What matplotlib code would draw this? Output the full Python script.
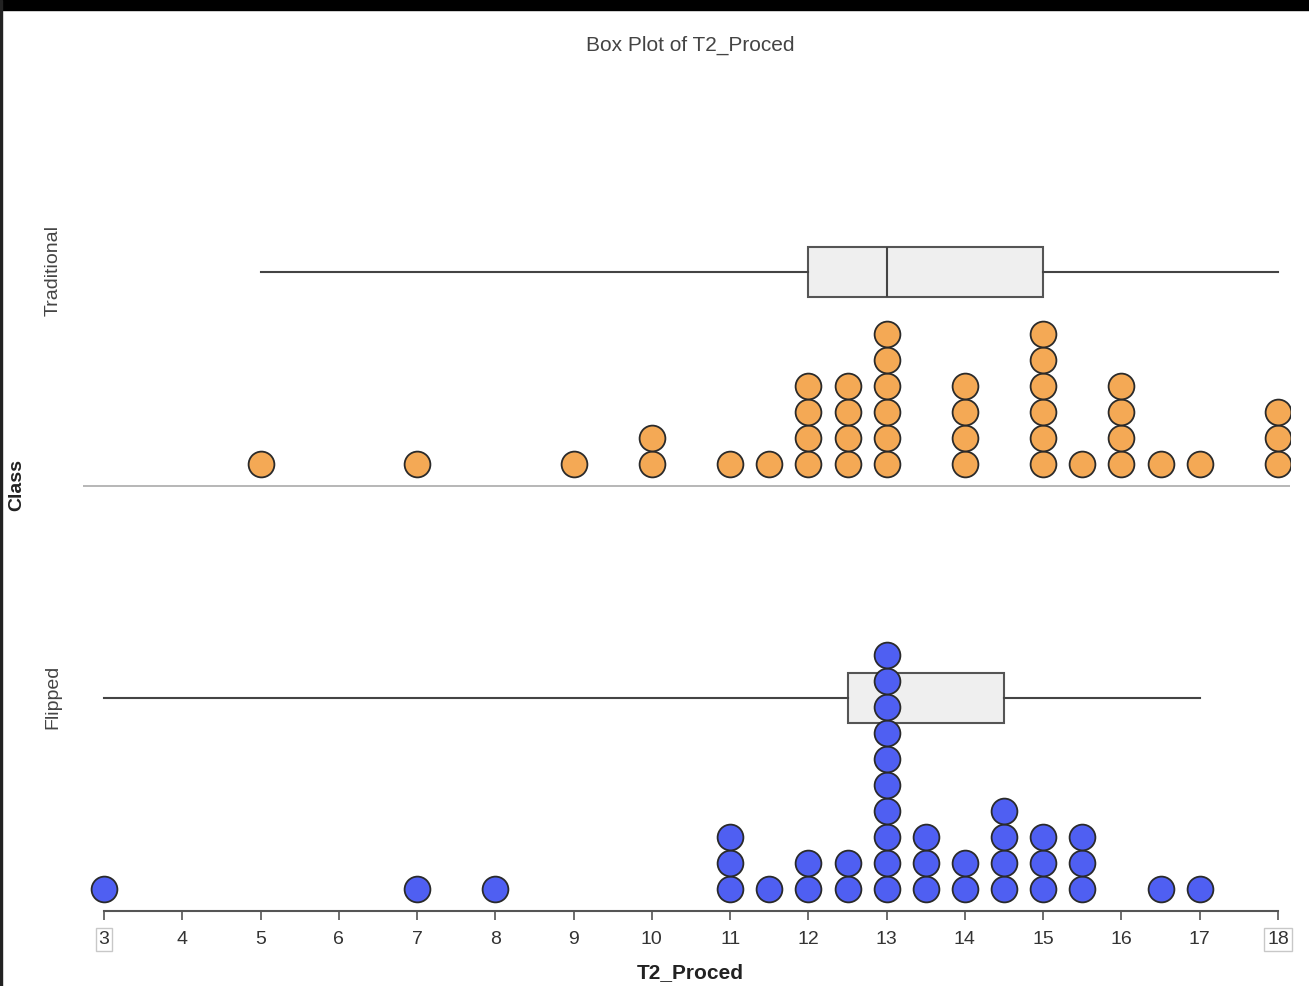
import numpy as np
import matplotlib
matplotlib.use('Agg')
import matplotlib.pyplot as plt
from matplotlib.patches import Rectangle

# ------------------------------------------------------------
# dados: valor de T2_Proced e quantas vezes aparece em cada turma
# ------------------------------------------------------------
trad_vals = [5, 7, 9, 10, 11, 11.5, 12, 12.5, 13, 14, 15, 15.5, 16, 16.5, 17, 18]
trad_cnts = [1, 1, 1, 2, 1, 1, 4, 4, 6, 4, 6, 1, 4, 1, 1, 3]

flip_vals = [3, 7, 8, 11, 11.5, 12, 12.5, 13, 13.5, 14, 14.5, 15, 15.5, 16.5, 17]
flip_cnts = [1, 1, 1, 3, 1, 2, 2, 10, 3, 2, 4, 3, 3, 1, 1]

groups = ['Traditional', 'Flipped']
x_ticks = list(range(3, 19))

ORANGE = '#F4A955'
BLUE = '#4F5FF2'
FONT = ['Liberation Sans Narrow', 'Liberation Sans', 'DejaVu Sans']

W, H = 1309, 986
fig = plt.figure(figsize=(W / 100, H / 100), dpi=100)
fig.patch.set_facecolor('white')

# eixo em "pixels" na vertical: 0 = linha do eixo x
ax_l, ax_r, ax_b, ax_t = 83, 1290, 911, 100
ax = fig.add_axes([ax_l / W, (H - ax_b) / H, (ax_r - ax_l) / W, (ax_b - ax_t) / H])
px_per_unit = (1278 - 104) / 15.0
ax.set_xlim(3 - (104 - ax_l) / px_per_unit, 3 + (ax_r - 104) / px_per_unit)
ax.set_ylim(0, ax_b - ax_t)

DOT = 26
OFF = 22
bases = {'Traditional': 425, 'Flipped': 0}


def dot_stack(vals, cnts, base, color):
    xs, ys = [], []
    for v, c in zip(vals, cnts):
        for k in range(c):
            xs.append(v)
            ys.append(base + OFF + k * DOT)
    ax.scatter(xs, ys, s=345, c=color, edgecolors='#2a2a2a', linewidths=1.3, zorder=4)


def box(vals, cnts, base):
    data = np.repeat(vals, cnts)
    bp = ax.boxplot([data], positions=[base + 213.5], widths=50, orientation='horizontal',
                    whis=(0, 100), showcaps=False, showfliers=False, patch_artist=True,
                    manage_ticks=False)
    for b in bp['boxes']:
        b.set_facecolor('#efefef')
        b.set_edgecolor('#555555')
        b.set_linewidth(1.5)
    for w in bp['whiskers']:
        w.set_color('#444444')
        w.set_linewidth(1.5)
    for m in bp['medians']:
        m.set_color('#444444')
        m.set_linewidth(1.5)
    for art in bp['boxes'] + bp['whiskers'] + bp['medians']:
        art.set_zorder(2)


box(trad_vals, trad_cnts, bases['Traditional'])
box(flip_vals, flip_cnts, bases['Flipped'])
dot_stack(trad_vals, trad_cnts, bases['Traditional'], ORANGE)
dot_stack(flip_vals, flip_cnts, bases['Flipped'], BLUE)

# linha base da turma Traditional
ax.axhline(bases['Traditional'], color='#aaaaaa', lw=1.2, zorder=1)

for s in ['top', 'right', 'left']:
    ax.spines[s].set_visible(False)
ax.spines['bottom'].set_bounds(3, 18)
ax.spines['bottom'].set_color('#555555')
ax.spines['bottom'].set_linewidth(1.5)
ax.set_yticks([])
ax.set_xticks(x_ticks)
ax.set_xticklabels([str(t) for t in x_ticks])
ax.tick_params(axis='x', direction='out', length=6.5, width=1.2, color='#555555',
               pad=8, labelsize=14, labelcolor='#333333')
for lab in ax.get_xticklabels():
    lab.set_fontfamily(FONT)
labs = ax.get_xticklabels()
for lab in (labs[0], labs[-1]):
    lab.set_bbox(dict(boxstyle='square,pad=0.15', fc='none', ec='#c8c8c8', lw=1))

# textos
fig.text(690 / W, 1 - 45 / H, 'Box Plot of T2_Proced', ha='center', va='center',
         fontsize=15, color='#444444', family=FONT)
fig.text(690 / W, 1 - 973 / H, 'T2_Proced', ha='center', va='center',
         fontsize=15, fontweight='bold', color='#222222', family=FONT)
fig.text(17 / W, 1 - 485 / H, 'Class', ha='center', va='center', rotation=90,
         fontsize=14, fontweight='bold', color='#222222', family=FONT)
fig.text(53 / W, 1 - 270 / H, 'Traditional', ha='center', va='center', rotation=90,
         fontsize=14, color='#444444', family=FONT)
fig.text(53 / W, 1 - 697 / H, 'Flipped', ha='center', va='center', rotation=90,
         fontsize=14, color='#444444', family=FONT)

# moldura preta da captura
fig.patches.append(Rectangle((0, 1 - 10 / H), 1, 10 / H, transform=fig.transFigure,
                             color='black', zorder=10))
fig.patches.append(Rectangle((0, 0), 2 / W, 1, transform=fig.transFigure,
                             color='#222222', zorder=10))

fig.savefig('out.png', dpi=100)
plt.close(fig)
